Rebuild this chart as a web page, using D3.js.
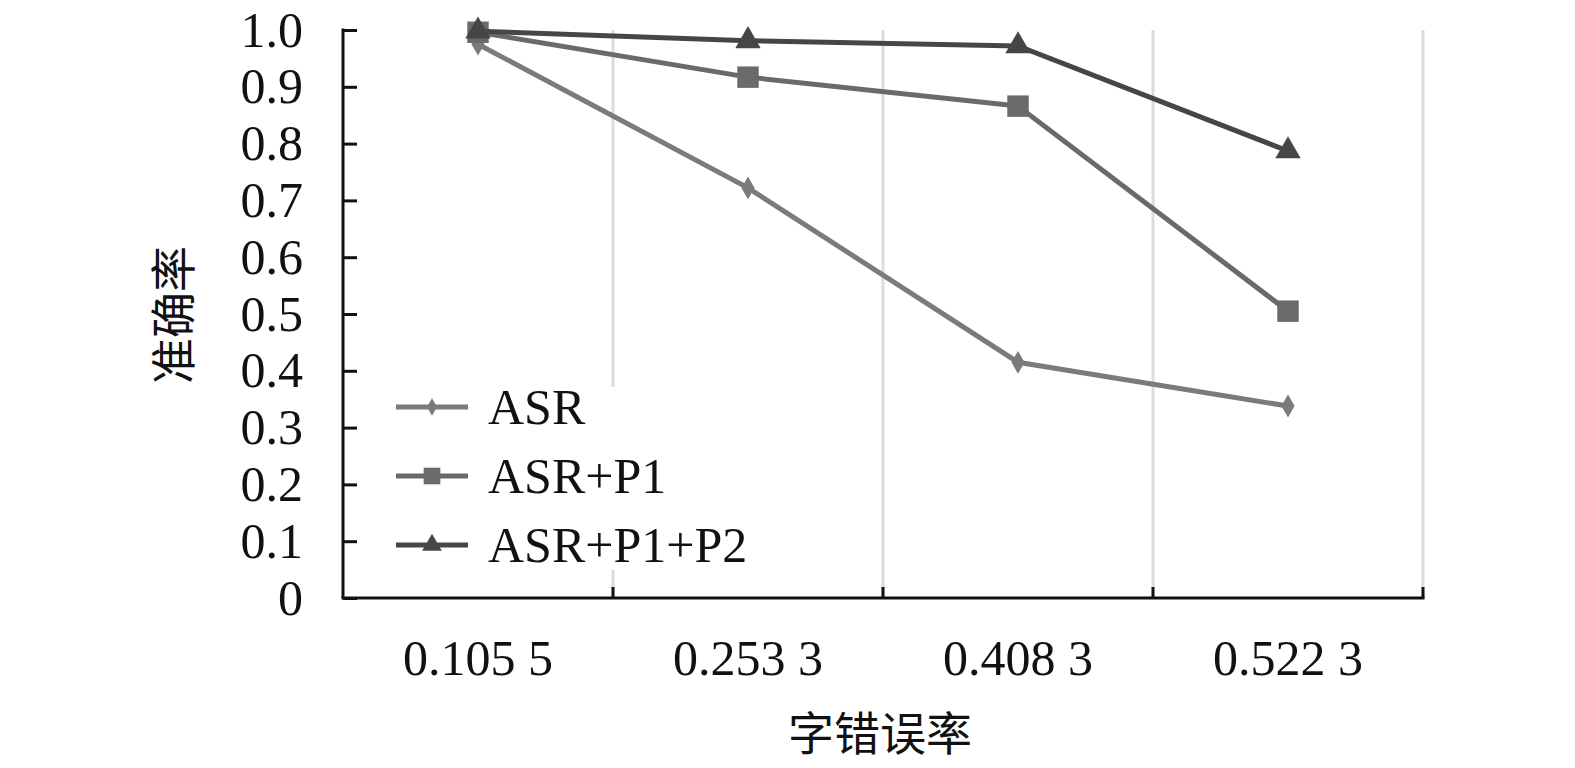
<!DOCTYPE html>
<html>
<head>
<meta charset="utf-8">
<script src="https://cdn.jsdelivr.net/npm/d3@7"></script>
<style>
  body { margin: 0; background: #fff; }
  text { font-family: "Liberation Serif", "Times New Roman", serif; }
</style>
</head>
<body>
<div id="chart"></div>
<script>
// chart data
const categories = ["0.105 5", "0.253 3", "0.408 3", "0.522 3"];
const asr = [0.975, 0.722, 0.415, 0.338];
const asrP1 = [0.996, 0.917, 0.866, 0.505];
const asrP1P2 = [0.998, 0.981, 0.972, 0.787];
const yTicks = [0, 0.1, 0.2, 0.3, 0.4, 0.5, 0.6, 0.7, 0.8, 0.9, 1.0];

const seriesList = [
  { name: "ASR", values: asr, color: "#7b7b7b", symbol: d3.symbolDiamond, size: 150 },
  { name: "ASR+P1", values: asrP1, color: "#6a6a6a", symbol: d3.symbolSquare, size: 460 },
  { name: "ASR+P1+P2", values: asrP1P2, color: "#464646", symbol: d3.symbolTriangle, size: 280 }
];

const width = 1575, height = 768;
const margin = { left: 343, right: 152, top: 30, bottom: 170 };

const svg = d3.select("#chart").append("svg")
  .attr("width", width)
  .attr("height", height);

const x = d3.scaleBand()
  .domain(categories)
  .range([margin.left, width - margin.right]);

const y = d3.scaleLinear()
  .domain([0, 1])
  .range([height - margin.bottom, margin.top]);

// vertical gridlines at category boundaries
const bounds = categories.map(c => x(c) + x.bandwidth());
svg.append("g")
  .selectAll("line")
  .data(bounds)
  .enter()
  .append("line")
  .attr("x1", d => d).attr("x2", d => d)
  .attr("y1", y(1)).attr("y2", y(0))
  .attr("stroke", "#dcdcdc")
  .attr("stroke-width", 3);

// y axis
const yAxis = svg.append("g")
  .attr("transform", "translate(" + margin.left + ",0)")
  .call(d3.axisRight(y).tickValues(yTicks).tickSize(14).tickFormat(() => ""));
yAxis.select(".domain").remove();
yAxis.selectAll(".tick line").attr("stroke", "#111").attr("stroke-width", 3);
svg.append("line")
  .attr("x1", margin.left).attr("x2", margin.left)
  .attr("y1", y(1) - 1.5).attr("y2", y(0))
  .attr("stroke", "#111").attr("stroke-width", 3);

svg.append("g")
  .selectAll("text")
  .data(yTicks)
  .enter()
  .append("text")
  .attr("x", 303)
  .attr("y", d => y(d))
  .attr("dy", "0.33em")
  .attr("text-anchor", "end")
  .style("font-size", "50px")
  .attr("fill", "#111")
  .text(d => d === 0 ? "0" : d.toFixed(1));

// x axis
svg.append("g")
  .selectAll("line")
  .data(bounds)
  .enter()
  .append("line")
  .attr("x1", d => d).attr("x2", d => d)
  .attr("y1", y(0) - 11).attr("y2", y(0))
  .attr("stroke", "#111")
  .attr("stroke-width", 3);
svg.append("line")
  .attr("x1", margin.left - 1.5).attr("x2", width - margin.right + 1.5)
  .attr("y1", y(0)).attr("y2", y(0))
  .attr("stroke", "#111").attr("stroke-width", 3);

svg.append("g")
  .selectAll("text")
  .data(categories)
  .enter()
  .append("text")
  .attr("x", d => x(d) + x.bandwidth() / 2)
  .attr("y", 675)
  .attr("text-anchor", "middle")
  .style("font-size", "50px")
  .attr("fill", "#111")
  .text(d => d);

// axis titles
svg.append("text")
  .attr("x", 880)
  .attr("y", 750)
  .attr("text-anchor", "middle")
  .style("font-family", "'Noto Sans CJK SC', sans-serif")
  .style("font-size", "46px")
  .attr("fill", "#111")
  .text("字错误率");

svg.append("text")
  .attr("transform", "translate(190,315) rotate(-90)")
  .attr("text-anchor", "middle")
  .style("font-family", "'Noto Sans CJK SC', sans-serif")
  .style("font-size", "46px")
  .attr("fill", "#111")
  .text("准确率");

// lines and markers
const line = d3.line()
  .x((d, i) => x(categories[i]) + x.bandwidth() / 2)
  .y(d => y(d));

seriesList.forEach(s => {
  svg.append("path")
    .datum(s.values)
    .attr("d", line)
    .attr("fill", "none")
    .attr("stroke", s.color)
    .attr("stroke-width", 5);

  svg.append("g")
    .selectAll("path")
    .data(s.values)
    .enter()
    .append("path")
    .attr("d", d3.symbol().type(s.symbol).size(s.size))
    .attr("transform", (d, i) =>
      "translate(" + (x(categories[i]) + x.bandwidth() / 2) + "," + y(d) + ")")
    .attr("fill", s.color);
});

// legend
const legend = svg.append("g");
legend.append("rect")
  .attr("x", 385).attr("y", 387)
  .attr("width", 390).attr("height", 183)
  .attr("fill", "#fff");

const rows = legend.selectAll("g")
  .data(seriesList)
  .enter()
  .append("g")
  .attr("transform", (d, i) => "translate(0," + (407 + i * 69) + ")");

rows.append("line")
  .attr("x1", 396).attr("x2", 468)
  .attr("y1", 0).attr("y2", 0)
  .attr("stroke", d => d.color)
  .attr("stroke-width", 5);

rows.append("path")
  .attr("d", d => d3.symbol().type(d.symbol).size(d.size * 0.6)())
  .attr("transform", "translate(432,0)")
  .attr("fill", d => d.color);

rows.append("text")
  .attr("x", 488)
  .attr("y", 0)
  .attr("dy", "0.33em")
  .style("font-size", "50px")
  .attr("fill", "#111")
  .text(d => d.name);
</script>
</body>
</html>
